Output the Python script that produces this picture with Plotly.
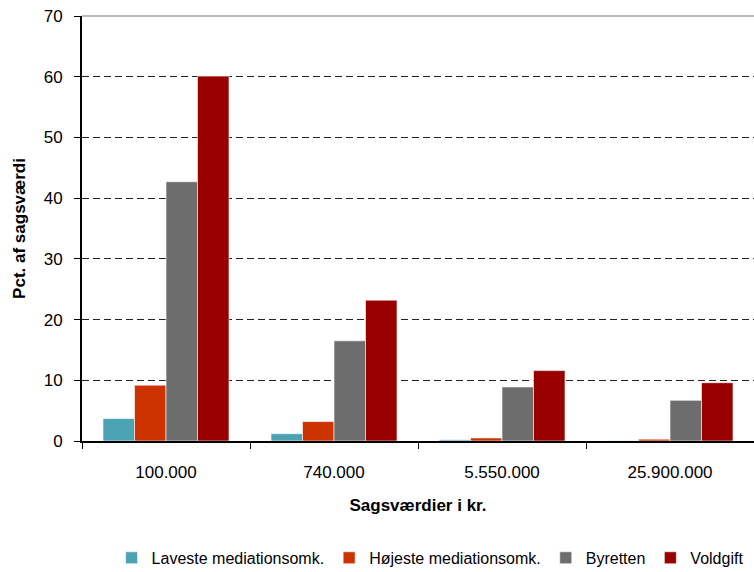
import plotly.graph_objects as go

categories = ["100.000", "740.000", "5.550.000", "25.900.000"]
series_names = ["Laveste mediationsomk.", "Højeste mediationsomk.", "Byretten", "Voldgift"]
laveste = [3.7, 1.2, 0.2, 0.05]
hojeste = [9.2, 3.2, 0.5, 0.3]
byretten = [42.7, 16.5, 8.9, 6.7]
voldgift = [60.1, 23.2, 11.6, 9.6]
colors = ["#4BA3B4", "#CC3300", "#6D6D6D", "#990000"]
y_ticks = [0, 10, 20, 30, 40, 50, 60, 70]

fig = go.Figure()
for name, vals, col in zip(series_names, [laveste, hojeste, byretten, voldgift], colors):
    fig.add_trace(go.Bar(x=categories, y=vals, name=name, marker_color=col,
                         marker_line=dict(color="rgba(255,255,255,0.6)", width=1)))

font = "Liberation Sans, Arial, sans-serif"
fig.update_layout(
    width=754, height=572,
    margin=dict(l=82, r=0, t=16, b=131, autoexpand=False),
    paper_bgcolor="white", plot_bgcolor="white",
    barmode="group", bargap=0.25, bargroupgap=0,
    font=dict(family=font, size=17, color="black"),
    showlegend=True,
    legend=dict(orientation="h", x=0.518, xanchor="center", y=-0.275, yanchor="middle",
                font=dict(size=16), itemwidth=30, traceorder="normal", tracegroupgap=0),
    xaxis=dict(showline=True, linecolor="black", linewidth=2, automargin=False,
               ticks="outside", tickson="boundaries", ticklen=6, tickcolor="black", tickwidth=1,
               ticklabelstandoff=15,
               title=dict(text="<b>Sagsværdier i kr.</b>", font=dict(size=17), standoff=18),
               tickfont=dict(size=17)),
    yaxis=dict(range=[0, 70], tickvals=y_ticks, showline=True, linecolor="black", linewidth=2,
               automargin=False, ticklabelstandoff=8,
               ticks="outside", ticklen=6, tickcolor="black",
               showgrid=True, gridcolor="#222222", griddash="7px,4px", gridwidth=1.4,
               zeroline=False,
               title=dict(text="<b>Pct. af sagsværdi</b>", font=dict(size=17), standoff=14),
               tickfont=dict(size=17)),
    shapes=[dict(type="line", xref="paper", yref="paper", x0=0, x1=1, y0=1, y1=1,
                 line=dict(color="#A0A0A0", width=1.5))],
)

fig.write_html("out.html", config={"displayModeBar": False},
               post_script="document.body.style.margin='0';document.body.style.overflow='hidden';")
